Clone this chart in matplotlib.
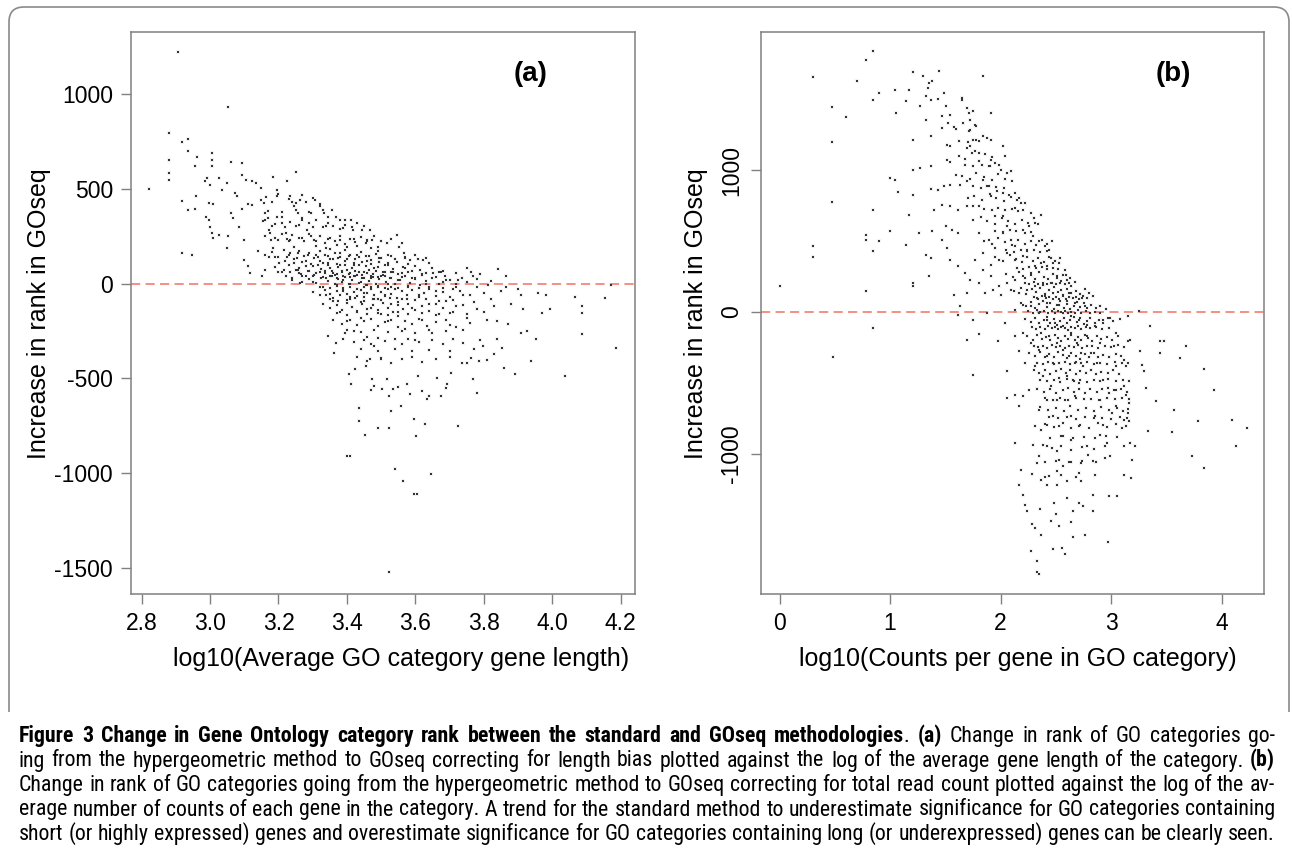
import matplotlib
matplotlib.use("Agg")
import matplotlib.pyplot as plt
from matplotlib import font_manager as fm
from matplotlib.path import Path
from matplotlib.patches import PathPatch

plt.rcParams["font.family"] = ["Liberation Sans", "DejaVu Sans"]

W, H = 1292, 856

# panel (a): log10(average gene length) vs change in rank, sparse outer points
A_POINTS = [
    (2.907, 1223), (3.053, 933), (2.879, 792), (2.918, 748), (2.937, 761), (2.937, 696),
    (2.879, 652), (2.879, 585), (2.879, 545), (2.822, 497), (2.918, 434), (2.937, 387),
    (2.955, 392), (2.960, 459), (2.956, 617), (2.963, 666), (2.985, 538), (2.991, 555),
    (3.000, 520), (3.006, 687), (3.006, 652), (3.006, 617), (2.997, 423), (3.009, 420),
    (2.988, 353), (2.997, 336), (3.000, 300), (3.006, 265), (3.009, 241), (3.025, 256),
    (2.918, 163), (2.946, 148), (3.027, 555), (3.034, 494), (3.049, 529), (3.061, 640),
    (3.074, 476), (3.078, 459), (3.052, 248), (3.050, 186), (3.061, 371), (3.068, 344),
    (3.092, 634), (3.092, 573), (3.104, 546), (3.123, 538), (3.133, 532), (3.092, 392),
    (3.111, 420), (3.123, 415), (3.086, 300), (3.098, 230), (3.184, 564), (3.197, 494),
    (3.197, 459), (3.225, 538), (3.250, 590), (3.233, 459), (3.239, 432), (3.098, 125),
    (3.111, 90), (3.117, 54), (3.148, 502), (3.158, 423), (3.162, 371), (3.160, 336),
    (3.172, 283), (3.178, 230), (3.184, 186), (3.190, 142), (3.203, 107), (3.215, 72),
    (3.222, 37), (3.172, 142), (3.160, 72), (3.153, 37), (3.197, 353), (3.209, 318),
    (3.222, 265), (3.233, 230), (3.246, 195), (3.258, 160), (3.233, 160), (3.246, 107),
    (3.258, 72), (3.270, 37), (3.264, 2), (3.246, 406), (3.258, 371), (3.264, 441),
    (3.270, 336), (3.283, 283), (3.295, 248), (3.295, 371), (3.307, 441), (3.320, 406),
    (3.332, 371), (3.344, 353), (3.356, 388), (3.369, 353), (3.381, 336), (3.393, 336),
    (3.411, 336), (3.418, 283), (3.443, 283), (3.467, 283), (3.473, 230), (3.457, 212),
    (3.492, 195), (3.516, 212), (3.547, 256), (3.553, 195), (3.566, 160), (3.584, 125),
    (3.609, 128), (3.621, 125), (3.639, 107), (3.615, 72), (3.652, 54), (3.676, 63),
    (3.688, 37), (3.701, 19), (3.725, 19), (3.737, 28), (3.762, 63), (3.768, 37),
    (3.811, -7), (3.842, 76), (3.866, 40), (3.866, -16), (3.909, -60), (3.958, -51),
    (3.983, -60), (4.068, -72), (4.154, -74), (4.172, -7),
    (3.344, -277), (3.363, -365), (3.369, -312), (3.393, -260), (3.406, -479), (3.412, -531),
    (3.424, -453), (3.436, -654), (3.436, -724), (3.452, -800), (3.455, -435), (3.467, -400),
    (3.473, -505), (3.479, -540), (3.492, -760), (3.504, -558), (3.516, -505), (3.522, -593),
    (3.522, -760), (3.528, -672), (3.534, -558), (3.541, -979), (3.559, -645), (3.565, -1040),
    (3.575, -531), (3.583, -582), (3.595, -716), (3.595, -1110), (3.605, -1110), (3.602, -803),
    (3.608, -488), (3.627, -742), (3.633, -610), (3.639, -593), (3.645, -1005), (3.662, -496),
    (3.674, -593), (3.693, -531), (3.705, -470), (3.725, -751), (3.737, -417), (3.762, -391),
    (3.768, -505), (3.780, -575), (3.786, -408), (3.799, -330), (3.829, -373), (3.854, -338),
    (3.860, -444), (3.891, -479), (3.909, -260), (3.927, -251), (3.939, -408), (3.952, -295),
    (4.038, -488), (4.087, -154), (4.087, -268), (4.087, -119), (4.186, -338), (3.971, -154),
    (3.995, -137), (3.915, -137), (3.522, -1523), (3.400, -909), (3.410, -909),
]

# panel (a): the dense band, read row by row
A_CORE = [
    (3.150, 440), (3.165, 455), (3.18, 430), (3.20, 470), (3.23, 445), (3.25, 425), (3.27, 465),
    (3.28, 430), (3.30, 450), (3.32, 420),
    (3.155, 330), (3.17, 345), (3.19, 315), (3.21, 350), (3.235, 325), (3.25, 305), (3.27, 345),
    (3.29, 320), (3.31, 335), (3.33, 300), (3.345, 320), (3.36, 305), (3.38, 290), (3.395, 310),
    (3.415, 300), (3.43, 320), (3.45, 305),
    (3.16, 250), (3.175, 265), (3.19, 240), (3.21, 260), (3.225, 235), (3.24, 255), (3.26, 240),
    (3.275, 225), (3.29, 260), (3.305, 230), (3.32, 250), (3.335, 215), (3.35, 240), (3.365, 225),
    (3.38, 250), (3.395, 210), (3.41, 235), (3.425, 220), (3.44, 245), (3.46, 225), (3.48, 250),
    (3.50, 225), (3.53, 235), (3.56, 215),
    (3.14, 170), (3.16, 150), (3.18, 165), (3.20, 140), (3.215, 175), (3.23, 150), (3.245, 130),
    (3.26, 170), (3.275, 145), (3.29, 160), (3.305, 135), (3.32, 170), (3.335, 150), (3.35, 130),
    (3.365, 160), (3.38, 140), (3.395, 175), (3.41, 150), (3.425, 130), (3.44, 165), (3.455, 145),
    (3.47, 125), (3.485, 155), (3.50, 135), (3.52, 150), (3.54, 130), (3.57, 140), (3.60, 150),
    (3.63, 135),
    (3.28, 120), (3.30, 90), (3.31, 150), (3.32, 60), (3.33, 110), (3.34, 30), (3.35, 180),
    (3.35, 80), (3.36, 130), (3.37, 50), (3.37, -10), (3.38, 100), (3.38, 160), (3.39, 20),
    (3.39, -40), (3.40, 70), (3.40, 130), (3.41, 0), (3.41, -70), (3.42, 40), (3.42, 100),
    (3.43, -30), (3.43, 150), (3.44, 10), (3.44, -100), (3.45, 60), (3.45, -50), (3.46, 120),
    (3.46, -10), (3.47, 30), (3.47, -130), (3.48, 80), (3.48, -80), (3.49, -20), (3.49, 170),
    (3.50, 40), (3.50, -160), (3.51, -60), (3.51, 100), (3.52, 0), (3.52, -200), (3.53, -110),
    (3.53, 60), (3.54, -30), (3.55, -170), (3.55, 20), (3.56, -80), (3.57, -240), (3.57, 80),
    (3.58, -20), (3.59, -130), (3.60, -300), (3.60, 30), (3.61, -60), (3.62, -190), (3.63, 0),
    (3.64, -110), (3.65, -260), (3.66, -40), (3.67, -160), (3.68, 10), (3.69, -90),
    (3.70, -220), (3.71, -30), (3.72, -120), (3.74, -60), (3.75, -180), (3.77, -100),
    (3.78, -20), (3.80, -150), (3.82, -80), (3.84, -200), (3.38, -150), (3.40, -200),
    (3.42, -250), (3.44, -180), (3.46, -280), (3.48, -330), (3.50, -400), (3.36, -90),
    (3.34, -60), (3.32, -20), (3.30, 10), (3.28, 40), (3.26, 80), (3.24, 20), (3.22, 120),
    (3.20, 60),
    (3.19, 85), (3.21, 60), (3.23, 95), (3.25, 70), (3.265, 50), (3.28, 90), (3.29, 65),
    (3.305, 45), (3.315, 100), (3.325, 75), (3.335, 55), (3.345, 95), (3.355, 65), (3.365, 45),
    (3.375, 85), (3.385, 60), (3.395, 95), (3.405, 50), (3.415, 80), (3.425, 65), (3.435, 100),
    (3.445, 45), (3.455, 90), (3.465, 70), (3.475, 50), (3.49, 85), (3.505, 60), (3.52, 95),
    (3.535, 75), (3.55, 50), (3.565, 85), (3.58, 60), (3.60, 90), (3.62, 50), (3.65, 80),
    (3.68, 65), (3.72, 55), (3.75, 80), (3.79, 50),
    (3.24, 30), (3.27, 10), (3.29, 25), (3.31, 5), (3.33, 35), (3.345, 15), (3.355, 40),
    (3.365, 0), (3.375, 25), (3.385, 10), (3.395, 35), (3.405, -5), (3.415, 20), (3.425, 40),
    (3.435, 5), (3.445, 30), (3.455, -10), (3.465, 15), (3.475, 35), (3.485, 0), (3.495, 25),
    (3.505, 45), (3.515, 10), (3.525, 30), (3.54, -5), (3.555, 20), (3.57, 40), (3.585, 5),
    (3.60, 25), (3.615, -10), (3.63, 15), (3.65, 30), (3.67, 0), (3.69, 20), (3.72, -5),
    (3.75, 10), (3.78, 25), (3.82, 15),
    (3.30, -45), (3.32, -60), (3.335, -35), (3.35, -55), (3.36, -75), (3.37, -40), (3.38, -60),
    (3.39, -30), (3.40, -55), (3.41, -80), (3.42, -45), (3.43, -65), (3.44, -35), (3.45, -70),
    (3.46, -50), (3.47, -30), (3.48, -60), (3.49, -80), (3.50, -45), (3.51, -65), (3.52, -30),
    (3.53, -55), (3.545, -75), (3.56, -40), (3.575, -60), (3.59, -35), (3.61, -70), (3.625, -50),
    (3.64, -30), (3.66, -65), (3.68, -45), (3.70, -70), (3.73, -40), (3.76, -60), (3.80, -50),
    (3.85, -40), (3.90, -30),
    (3.33, -110), (3.35, -130), (3.37, -115), (3.385, -140), (3.40, -105), (3.415, -125),
    (3.43, -145), (3.445, -110), (3.46, -135), (3.475, -115), (3.49, -140), (3.505, -105),
    (3.52, -130), (3.535, -150), (3.55, -115), (3.565, -135), (3.58, -110), (3.60, -140),
    (3.62, -120), (3.64, -145), (3.66, -110), (3.68, -130), (3.71, -150), (3.74, -115),
    (3.78, -135), (3.83, -120), (3.88, -110),
    (3.36, -190), (3.385, -215), (3.41, -195), (3.43, -220), (3.45, -200), (3.47, -185),
    (3.49, -225), (3.51, -205), (3.53, -190), (3.55, -230), (3.57, -200), (3.59, -215),
    (3.61, -185), (3.635, -225), (3.66, -205), (3.69, -190), (3.72, -230), (3.76, -210),
    (3.81, -195), (3.87, -215),
    (3.39, -290), (3.42, -310), (3.45, -300), (3.47, -320), (3.49, -285), (3.51, -305),
    (3.54, -295), (3.56, -320), (3.58, -290), (3.61, -310), (3.65, -300), (3.68, -320),
    (3.71, -295), (3.74, -315), (3.79, -300), (3.84, -290),
    (3.43, -390), (3.46, -410), (3.50, -395), (3.53, -420), (3.56, -400), (3.59, -385),
    (3.62, -415), (3.66, -400), (3.70, -390), (3.75, -420), (3.81, -405),
    (3.47, -560), (3.55, -545), (3.62, -565), (3.69, -550),
]

# panel (a): extra points in the darkest part of the band
A_DENSE = [
    (3.31, 198), (3.34, 187), (3.37, 204), (3.40, 190), (3.43, 199), (3.47, 186),
    (3.27, 112), (3.295, 104), (3.32, 117), (3.345, 108), (3.37, 102), (3.395, 119), (3.42, 106),
    (3.445, 113), (3.47, 101), (3.495, 116), (3.52, 107), (3.545, 111), (3.58, 103),
    (3.30, 38), (3.325, 31), (3.35, 42), (3.37, 29), (3.39, 37), (3.41, 33), (3.43, 44),
    (3.45, 28), (3.47, 39), (3.49, 32), (3.51, 41), (3.53, 27), (3.56, 36), (3.59, 30),
    (3.62, 43), (3.66, 34),
    (3.33, -18), (3.35, -25), (3.37, -14), (3.39, -22), (3.41, -17), (3.43, -27), (3.45, -16),
    (3.47, -21), (3.49, -13), (3.51, -26), (3.53, -19), (3.55, -23), (3.58, -15), (3.61, -24),
    (3.64, -18), (3.68, -22), (3.72, -16),
    (3.35, -82), (3.375, -91), (3.40, -86), (3.425, -79), (3.45, -93), (3.475, -84), (3.50, -88),
    (3.525, -78), (3.55, -95), (3.575, -83), (3.60, -89), (3.63, -80), (3.67, -92), (3.71, -85),
    (3.37, -158), (3.40, -166), (3.43, -152), (3.46, -163), (3.49, -155), (3.52, -168),
    (3.55, -150), (3.58, -161), (3.62, -157), (3.66, -164), (3.70, -153), (3.75, -160),
    (3.40, -246), (3.44, -257), (3.48, -243), (3.52, -255), (3.56, -248), (3.60, -259),
    (3.64, -244), (3.69, -252), (3.74, -247),
    (3.44, -347), (3.49, -356), (3.54, -343), (3.59, -354), (3.64, -349), (3.70, -358),
    (3.77, -345),
    (3.235, 62), (3.26, 55), (3.285, 67), (3.31, 58), (3.335, 64), (3.36, 53), (3.385, 66),
    (3.41, 57), (3.435, 61), (3.46, 54), (3.485, 68), (3.51, 59), (3.535, 63), (3.56, 56),
    (3.59, 65), (3.63, 58), (3.67, 62),
    (3.225, 142), (3.255, 136), (3.285, 148), (3.315, 139), (3.345, 145), (3.375, 134),
    (3.405, 147), (3.435, 138), (3.465, 144), (3.495, 137), (3.53, 146), (3.57, 135),
    (3.20, 232), (3.23, 226), (3.27, 238), (3.31, 224), (3.345, 236), (3.38, 228), (3.42, 234),
    (3.46, 227),
    (3.18, 302), (3.22, 296), (3.26, 308), (3.30, 298), (3.34, 305), (3.39, 294),
    (3.17, 382), (3.21, 376), (3.25, 388), (3.29, 379), (3.33, 385),
]

# panel (b): log10(counts per gene) vs change in rank, sparse outer points
B_POINTS = [
    (0.845, 1835), (0.780, 1777), (0.299, 1655), (0.696, 1629), (0.598, 1373), (0.477, 1443),
    (0.477, 1195), (0.477, 775), (0.299, 462), (0.299, 385), (0.000, 185), (0.780, 150),
    (0.845, 720), (0.780, 545), (0.780, 509), (0.845, 427), (0.900, 502), (0.999, 573),
    (0.999, 943), (1.042, 932), (1.071, 843), (1.057, 1401), (0.900, 1542), (0.845, 1495),
    (1.042, 1561), (1.144, 1483), (1.173, 1565), (1.203, 1687), (1.301, 1659), (1.203, 1213),
    (1.203, 1002), (1.203, 826), (1.173, 685), (1.144, 469), (1.203, 204), (1.203, 181),
    (1.272, 1014), (1.327, 1354), (1.345, 1577), (1.356, 1612), (1.382, 1624), (1.327, 1518),
    (1.371, 1495), (1.272, 1453), (1.371, 1242), (1.371, 1026), (1.371, 866), (1.399, 720),
    (1.382, 568), (1.265, 556), (1.327, 404), (1.371, 380), (1.356, 251), (1.443, 1699),
    (1.436, 1502), (1.490, 1542), (1.509, 1448), (1.472, 1378), (1.545, 1389), (1.527, 1331),
    (1.472, 1296), (1.582, 1300), (1.516, 1178), (1.545, 1166), (1.516, 1073), (1.545, 1054),
    (1.436, 861), (1.490, 885), (1.545, 897), (1.600, 967), (1.636, 897), (1.691, 920),
    (1.545, 744), (1.618, 720), (1.691, 744), (1.746, 744), (1.800, 744), (1.472, 756),
    (1.509, 603), (1.563, 580), (1.618, 556), (1.472, 509), (1.516, 451), (1.545, 368),
    (1.618, 321), (1.673, 275), (1.691, 134), (1.582, 122), (1.654, 1504), (1.647, 1495),
    (1.691, 1436), (1.709, 1401), (1.746, 1413), (1.727, 1354), (1.764, 1319), (1.709, 1272),
    (1.746, 1213), (1.800, 1202), (1.727, 1166), (1.837, 1237), (1.873, 1225), (1.910, 1213),
    (1.910, 1401), (1.837, 1659), (1.691, 1155), (1.764, 1131), (1.800, 1119), (1.910, 1073),
    (1.946, 1049), (1.982, 1037), (2.019, 1166), (2.037, 1096), (2.000, 1002), (2.055, 979),
    (2.092, 991), (1.891, 1026), (1.837, 932), (1.873, 885), (1.910, 814), (1.964, 850),
    (2.019, 838), (2.074, 826), (2.128, 838), (2.165, 803), (2.183, 767), (2.128, 732),
    (2.201, 720), (2.274, 697), (2.365, 685), (2.310, 627), (2.256, 603), (2.219, 556),
    (2.292, 533), (2.347, 498), (2.402, 462), (2.438, 439), (2.456, 380), (2.474, 345),
    (2.420, 321), (2.365, 345), (2.310, 321), (2.274, 275), (2.201, 251), (2.128, 228),
    (2.055, 204), (1.982, 181), (1.928, 157), (2.000, 122), (2.092, 157), (2.165, 134),
    (2.238, 157), (2.310, 181), (2.383, 192), (2.456, 204), (2.511, 251), (2.566, 263),
    (2.602, 228), (2.639, 181), (2.620, 134), (2.547, 157), (2.474, 134), (2.402, 110),
    (2.329, 99), (2.748, 110), (2.839, 110), (2.529, 345), (2.584, 298), (2.019, 673),
    (2.055, 603), (2.019, 556), (2.092, 509), (2.128, 462), (2.055, 415), (1.982, 368),
    (1.910, 333), (1.837, 298), (1.910, 251), (2.128, 368), (2.201, 392), (2.238, 439),
    (1.946, 673), (1.891, 509), (1.946, 451), (1.800, 556), (1.837, 415), (1.764, 368),
    (1.727, 228), (1.800, 204), (1.855, 134),
    (0.845, -113), (0.481, -319), (1.746, -441), (1.698, -195), (1.800, -153), (1.975, -207),
    (2.037, -77), (1.636, 40), (1.618, -19), (1.746, -54), (1.873, -7), (2.055, -606),
    (2.055, -418), (2.128, -922), (2.183, -1115), (2.165, -1216), (2.201, -1286), (2.219, -1357),
    (2.237, -1403), (2.281, -1490), (2.310, -1523), (2.365, -1568), (2.274, -1685), (2.329, -1755),
    (2.329, -1833), (2.347, -1845), (2.456, -1474), (2.474, -1669), (2.558, -1662), (2.584, -1702),
    (2.529, -1509), (2.639, -1481), (2.657, -1584), (2.766, -1568), (2.967, -1622), (2.485, -1345),
    (2.602, -1310), (2.712, -1345), (2.748, -1364), (2.839, -1286), (2.839, -1403), (2.977, -1298),
    (3.050, -1293), (3.112, -1145), (3.178, -1169), (3.186, -1040), (2.948, -1028), (2.992, -1016),
    (3.214, -946), (3.167, -922), (3.112, -946), (2.959, -922), (2.894, -864), (2.784, -946),
    (2.792, -1005), (2.839, -1051), (2.729, -1063), (2.639, -1058), (2.529, -1040), (2.511, -1122),
    (2.438, -1157), (2.365, -1181), (2.329, -1063), (2.347, -1016), (2.292, -934), (2.420, -946),
    (2.511, -981), (2.566, -1087), (2.712, -1134), (2.729, -1192), (2.602, -1192), (2.511, -1216),
    (2.420, -1216), (3.313, -535), (3.295, -418), (3.276, -371), (3.258, -277), (3.404, -629),
    (3.331, -836), (3.440, -207), (3.476, -207), (3.440, -289), (3.349, -96), (3.250, 5),
    (3.149, -30), (3.568, -692), (3.549, -847), (3.622, -324), (3.677, -242), (3.786, -770),
    (3.841, -399), (3.932, -547), (3.841, -1098), (3.732, -1016), (4.089, -763), (4.133, -941),
    (4.224, -817), (3.149, -207), (3.167, -195), (3.112, -336), (3.130, -383), (3.112, -523),
    (3.130, -582), (3.160, -641), (3.149, -711), (3.112, -758), (3.130, -805), (3.039, -664),
    (3.003, -711), (3.021, -547), (3.039, -383), (3.021, -242), (2.930, -476), (2.894, -617),
    (2.857, -735), (2.930, -793), (2.967, -535), (2.875, -359), (2.894, -218), (2.821, -289),
    (2.784, -171), (2.748, -383), (2.712, -500), (2.675, -594), (2.639, -735), (2.712, -805),
    (2.639, -899), (2.566, -875), (2.529, -805), (2.474, -735), (2.420, -793), (2.365, -828),
    (2.310, -805), (2.347, -688), (2.420, -617), (2.511, -617), (2.584, -617), (2.456, -523),
    (2.529, -465), (2.602, -453), (2.657, -476), (2.383, -453), (2.310, -383), (2.256, -547),
    (2.201, -594), (2.128, -582), (2.165, -664), (2.219, -359), (2.165, -277), (2.128, -171),
    (2.201, -148), (2.274, -218), (2.347, -265), (2.420, -312), (2.474, -359), (2.365, -148),
    (2.438, -171), (2.511, -218), (2.566, -265), (2.620, -312), (2.675, -359), (2.729, -289),
    (2.693, -218), (2.639, -148), (2.566, -101), (2.493, -77), (2.420, -54), (2.347, -7),
    (2.274, 40), (2.201, 52), (2.128, 16), (2.566, -7), (2.639, -30), (2.712, -54),
    (2.784, -89), (2.857, -101), (2.930, -54), (2.985, -42), (3.039, -148), (2.766, 40),
    (2.675, 63), (2.602, 75), (2.420, 63), (2.529, 52),
]

# panel (b): the dense band, read row by row
B_CORE = [
    (1.60, 1290), (1.66, 1330), (1.72, 1280), (1.78, 1310),
    (1.62, 1100), (1.68, 1080), (1.74, 1120), (1.80, 1060), (1.86, 1110), (1.92, 1090),
    (1.65, 960), (1.72, 940), (1.78, 980), (1.85, 950), (1.92, 930), (1.98, 970), (2.04, 940),
    (2.10, 920),
    (1.70, 800), (1.76, 820), (1.83, 790), (1.90, 830), (1.96, 800), (2.03, 780), (2.09, 810),
    (2.15, 790), (2.22, 770),
    (1.75, 650), (1.82, 670), (1.88, 640), (1.95, 620), (2.01, 660), (2.07, 640), (2.13, 620),
    (2.19, 650), (2.25, 630), (2.30, 660), (2.34, 620),
    (1.85, 500), (1.92, 480), (1.98, 520), (2.04, 490), (2.10, 470), (2.16, 510), (2.22, 480),
    (2.27, 500), (2.32, 470), (2.37, 510), (2.42, 480), (2.46, 500),
    (1.95, 390), (2.02, 360), (2.08, 400), (2.14, 370), (2.19, 350), (2.24, 390), (2.29, 360),
    (2.34, 380), (2.39, 350), (2.44, 390), (2.49, 360), (2.54, 380),
    (2.05, 270), (2.11, 250), (2.17, 280), (2.22, 240), (2.27, 260), (2.31, 230), (2.35, 280),
    (2.39, 250), (2.43, 230), (2.47, 270), (2.51, 240), (2.55, 220), (2.59, 260), (2.63, 240),
    (2.67, 210),
    (2.12, 150), (2.18, 170), (2.23, 130), (2.28, 160), (2.32, 140), (2.36, 170), (2.40, 130),
    (2.44, 155), (2.48, 175), (2.52, 140), (2.56, 120), (2.60, 160), (2.64, 135), (2.68, 150),
    (2.72, 125), (2.76, 160), (2.80, 135),
    (2.18, 60), (2.23, 40), (2.27, 70), (2.31, 30), (2.35, 55), (2.38, 80), (2.42, 35),
    (2.45, 65), (2.48, 20), (2.51, 50), (2.54, 75), (2.57, 30), (2.60, 55), (2.63, 20),
    (2.66, 45), (2.69, 70), (2.72, 35), (2.75, 60), (2.78, 25), (2.82, 50), (2.86, 30),
    (2.90, 45), (2.95, 20),
    (2.22, -50), (2.27, -70), (2.31, -40), (2.35, -80), (2.39, -55), (2.42, -35), (2.45, -75),
    (2.48, -50), (2.51, -90), (2.54, -60), (2.57, -40), (2.60, -80), (2.63, -55), (2.66, -35),
    (2.69, -70), (2.72, -45), (2.75, -85), (2.78, -60), (2.81, -40), (2.85, -75), (2.89, -55),
    (2.93, -80), (2.97, -45), (3.02, -65), (3.08, -50),
    (2.24, -170), (2.29, -195), (2.33, -165), (2.37, -190), (2.41, -175), (2.45, -200),
    (2.49, -165), (2.52, -185), (2.55, -205), (2.58, -170), (2.61, -190), (2.64, -160),
    (2.67, -195), (2.70, -175), (2.73, -200), (2.76, -165), (2.79, -185), (2.83, -205),
    (2.87, -170), (2.91, -190), (2.96, -175), (3.01, -195), (3.06, -170),
    (2.26, -290), (2.31, -310), (2.36, -285), (2.40, -320), (2.44, -295), (2.48, -315),
    (2.52, -285), (2.56, -305), (2.60, -325), (2.64, -290), (2.68, -310), (2.72, -330),
    (2.76, -295), (2.80, -315), (2.84, -290), (2.88, -320), (2.93, -300), (2.98, -315),
    (3.04, -295), (3.09, -310),
    (2.30, -410), (2.35, -430), (2.40, -405), (2.45, -440), (2.50, -415), (2.55, -400),
    (2.59, -430), (2.63, -410), (2.68, -440), (2.72, -415), (2.77, -430), (2.82, -405),
    (2.86, -440), (2.91, -420), (2.97, -430), (3.02, -410), (3.07, -440),
    (2.33, -540), (2.39, -560), (2.45, -545), (2.50, -570), (2.56, -550), (2.61, -535),
    (2.66, -565), (2.71, -545), (2.76, -570), (2.81, -540), (2.87, -560), (2.92, -545),
    (2.98, -570), (3.04, -550), (3.09, -540), (3.14, -565),
    (2.36, -670), (2.43, -690), (2.50, -675), (2.57, -695), (2.63, -665), (2.70, -690),
    (2.77, -675), (2.84, -700), (2.91, -670), (2.98, -690), (3.05, -675), (3.11, -700),
    (3.15, -680),
    (2.40, -790), (2.48, -810), (2.56, -780), (2.64, -815), (2.72, -795), (2.80, -820),
    (2.88, -785), (2.96, -810), (3.04, -790), (3.10, -815), (3.16, -770),
    (2.38, -940), (2.46, -960), (2.55, -945), (2.64, -975), (2.74, -950), (2.84, -965),
    (2.94, -945),
    (2.28, -1140), (2.40, -1160), (2.55, -1150), (2.68, -1165), (2.85, -1150),
    (2.36, -1390), (2.50, -1420), (2.65, -1400),
]

# panel (b): extra points in the darkest part of the band
B_DENSE = [
    (2.30, 104), (2.34, 92), (2.37, 111), (2.41, 97), (2.44, 108), (2.47, 89), (2.50, 103),
    (2.53, 95), (2.56, 112), (2.59, 90), (2.62, 106), (2.65, 98), (2.68, 109), (2.71, 93),
    (2.74, 101), (2.78, 96),
    (2.25, 8), (2.29, -6), (2.33, 12), (2.36, -3), (2.39, 6), (2.43, -10), (2.46, 4),
    (2.49, -7), (2.52, 10), (2.55, -2), (2.58, 7), (2.61, -9), (2.64, 3), (2.67, -5),
    (2.70, 11), (2.73, -4), (2.77, 5), (2.81, -8), (2.85, 2), (2.90, -6),
    (2.28, -104), (2.32, -117), (2.36, -108), (2.40, -121), (2.43, -101), (2.46, -114),
    (2.49, -106), (2.52, -119), (2.55, -103), (2.58, -112), (2.61, -125), (2.64, -107),
    (2.67, -115), (2.70, -102), (2.73, -118), (2.77, -109), (2.81, -113), (2.86, -105),
    (2.92, -120), (2.98, -110),
    (2.30, -236), (2.34, -248), (2.38, -239), (2.42, -252), (2.46, -234), (2.50, -245),
    (2.54, -241), (2.58, -255), (2.62, -237), (2.66, -247), (2.70, -233), (2.74, -250),
    (2.78, -242), (2.83, -238), (2.88, -251), (2.94, -240), (3.00, -246), (3.06, -235),
    (3.12, -249),
    (2.33, -356), (2.38, -365), (2.43, -352), (2.48, -368), (2.53, -359), (2.58, -350),
    (2.63, -366), (2.68, -355), (2.73, -362), (2.78, -351), (2.84, -367), (2.90, -357),
    (2.96, -364), (3.03, -353), (3.10, -361), (3.15, -358),
    (2.36, -476), (2.42, -488), (2.48, -479), (2.54, -492), (2.60, -474), (2.66, -485),
    (2.72, -481), (2.78, -490), (2.84, -477), (2.90, -486), (2.97, -472), (3.04, -489),
    (3.11, -480), (3.16, -484),
    (2.40, -605), (2.47, -618), (2.54, -609), (2.61, -621), (2.68, -603), (2.75, -614),
    (2.82, -611), (2.89, -620), (2.96, -606), (3.03, -616), (3.10, -608), (3.16, -612),
    (2.44, -736), (2.52, -748), (2.60, -741), (2.68, -752), (2.76, -738), (2.84, -746),
    (2.92, -743), (3.00, -751), (3.08, -739), (3.14, -745),
    (2.22, 203), (2.26, 196), (2.30, 208), (2.34, 199), (2.38, 205), (2.42, 194),
    (2.46, 207), (2.50, 198), (2.54, 204), (2.58, 195), (2.62, 201),
    (2.15, 312), (2.20, 305), (2.26, 318), (2.32, 308), (2.37, 315), (2.42, 303),
    (2.47, 311), (2.52, 306),
    (2.05, 434), (2.12, 426), (2.18, 438), (2.24, 429), (2.30, 436), (2.36, 424), (2.42, 432),
    (1.95, 574), (2.02, 566), (2.08, 579), (2.14, 569), (2.20, 576), (2.27, 563),
    (1.85, 724), (1.92, 716), (1.98, 729), (2.04, 719), (2.10, 726), (2.16, 713),
    (1.75, 884), (1.82, 876), (1.89, 889), (1.96, 879), (2.03, 872),
    (1.68, 1034), (1.75, 1026), (1.83, 1038), (1.90, 1029),
    (1.62, 1204), (1.70, 1196), (1.78, 1208),
    (2.45, -884), (2.55, -876), (2.65, -889), (2.75, -879), (2.85, -886), (2.95, -874),
    (3.05, -882),
    (2.40, -1054), (2.50, -1046), (2.62, -1059), (2.74, -1049), (2.86, -1056),
]

A_XTICKS = [2.8, 3.0, 3.2, 3.4, 3.6, 3.8, 4.0, 4.2]
A_YTICKS = [-1500, -1000, -500, 0, 500, 1000]
B_XTICKS = [0, 1, 2, 3, 4]
B_YTICKS = [-1000, 0, 1000]

YLABEL = "Increase in rank in GOseq"
A_XLABEL = "log10(Average GO category gene length)"
B_XLABEL = "log10(Counts per gene in GO category)"

CAPTION = [
    [("Figure 3 Change in Gene Ontology category rank between the standard and GOseq methodologies", True),
     (". ", False), ("(a)", True), (" Change in rank of GO categories go-", False)],
    [("ing from the hypergeometric method to GOseq correcting for length bias plotted against the log of "
      "the average gene length of the category. ", False), ("(b)", True)],
    [("Change in rank of GO categories going from the hypergeometric method to GOseq correcting for total "
      "read count plotted against the log of the av-", False)],
    [("erage number of counts of each gene in the category. A trend for the standard method to "
      "underestimate significance for GO categories containing", False)],
    [("short (or highly expressed) genes and overestimate significance for GO categories containing long "
      "(or underexpressed) genes can be clearly seen.", False)],
]

DOT = "#333333"
SPINE = "#808080"
RED = "#f07262"


def px_box(left, top, right, bottom):
    return [left / W, 1 - bottom / H, (right - left) / W, (bottom - top) / H]


def style_axes(ax):
    for sp in ax.spines.values():
        sp.set_color(SPINE)
        sp.set_linewidth(1.1)
    ax.tick_params(direction="out", length=7, width=1.0, color=SPINE,
                   labelsize=16.5, pad=6, labelcolor="black")


def draw_panel(ax, points, xticks, yticks, xlim, ylim):
    xs = [p[0] for p in points]
    ys = [p[1] for p in points]
    ax.scatter(xs, ys, s=11, marker="s", color="#f1f1f1", linewidths=0, zorder=1)
    ax.scatter(xs, ys, s=4.6, marker="s", color=DOT, linewidths=0, zorder=3)
    ax.axhline(0, color=RED, lw=1.1, ls=(0, (6, 3.5)), zorder=2)
    ax.set_xlim(*xlim)
    ax.set_ylim(*ylim)
    ax.set_xticks(xticks)
    ax.set_yticks(yticks)
    style_axes(ax)


fig = plt.figure(figsize=(W / 100, H / 100), dpi=100)

ax_a = fig.add_axes(px_box(131, 32, 635, 594))
draw_panel(ax_a, A_POINTS + A_CORE + A_DENSE, A_XTICKS, A_YTICKS, (2.769, 4.242), (-1637, 1326))
ax_a.set_xticklabels([f"{t:.1f}" for t in A_XTICKS])
ax_a.set_yticklabels([str(t) for t in A_YTICKS])
ax_a.text(0.792, 0.925, "(a)", transform=ax_a.transAxes, ha="center", va="center",
          fontsize=20, fontweight="bold")

ax_b = fig.add_axes(px_box(761, 32, 1264, 594))
draw_panel(ax_b, B_POINTS + B_CORE + B_DENSE, B_XTICKS, B_YTICKS, (-0.168, 4.382), (-1986, 1972))
ax_b.set_xticklabels([str(t) for t in B_XTICKS])
ax_b.set_yticklabels([str(t) for t in B_YTICKS], rotation=90, va="center")
ax_b.text(0.82, 0.925, "(b)", transform=ax_b.transAxes, ha="center", va="center",
          fontsize=20, fontweight="bold")

# axis titles
fig.text(39 / W, 1 - 314 / H, YLABEL, rotation=90, ha="center", va="center", fontsize=18)
fig.text(696 / W, 1 - 314 / H, YLABEL, rotation=90, ha="center", va="center", fontsize=18)
fig.text(401 / W, 1 - 659 / H, A_XLABEL, ha="center", va="center", fontsize=18)
fig.text(1018 / W, 1 - 659 / H, B_XLABEL, ha="center", va="center", fontsize=18)

# rounded frame around the plots
verts = [(9, 712), (9, 22), (9, 7), (24, 7), (1274, 7), (1289, 7), (1289, 22), (1289, 712)]
codes = [Path.MOVETO, Path.LINETO, Path.CURVE3, Path.CURVE3, Path.LINETO,
         Path.CURVE3, Path.CURVE3, Path.LINETO]
frame = Path([(x / W, 1 - y / H) for x, y in verts], codes)
fig.add_artist(PathPatch(frame, transform=fig.transFigure, fill=False,
                         edgecolor="#8a8a8a", lw=1.2))

# caption font: prefer a narrow face if one is installed
available = {f.name for f in fm.fontManager.ttflist}
cap_family, cap_stretch = "Liberation Sans", "normal"
for name in ["Liberation Sans Narrow", "Roboto Condensed", "Open Sans Condensed",
             "Noto Sans Condensed", "Arial Narrow"]:
    if name in available:
        cap_family = name
        break
else:
    for f in fm.fontManager.ttflist:
        if f.name in ("Noto Sans", "Open Sans", "Roboto") and str(f.stretch) in (
                "condensed", "semi-condensed"):
            cap_family, cap_stretch = f.name, str(f.stretch)
            break

left, right = 19, 1275
renderer = fig.canvas.get_renderer()


def measure(text, bold, size):
    t = fig.text(0, 0, text, fontsize=size, family=cap_family, fontstretch=cap_stretch,
                 fontweight="bold" if bold else "normal")
    width = t.get_window_extent(renderer).width
    t.remove()
    return width


def split_words(segments):
    words = [[]]
    for text, bold in segments:
        parts = text.split(" ")
        for i, part in enumerate(parts):
            if i > 0:
                words.append([])
            if part:
                words[-1].append((part, bold))
    return [w for w in words if w]


# size so that the longest line just fills the column with ordinary spaces
base = 12
natural = []
for segments in CAPTION:
    natural.append(sum(measure(t, b, base) for t, b in segments))
cap_size = base * (right - left) / max(natural)

for li, segments in enumerate(CAPTION):
    words = split_words(segments)
    widths = [[measure(t, b, cap_size) for t, b in w] for w in words]
    total = sum(sum(w) for w in widths)
    gap = (right - left - total) / (len(words) - 1)
    base_y = 1 - (742 + li * 24.5) / H
    x = left
    for word, wl in zip(words, widths):
        for (t, b), w in zip(word, wl):
            fig.text(x / W, base_y, t, fontsize=cap_size, family=cap_family,
                     fontstretch=cap_stretch, fontweight="bold" if b else "normal",
                     va="baseline", ha="left")
            x += w
        x += gap

fig.savefig("out.png", dpi=100)
